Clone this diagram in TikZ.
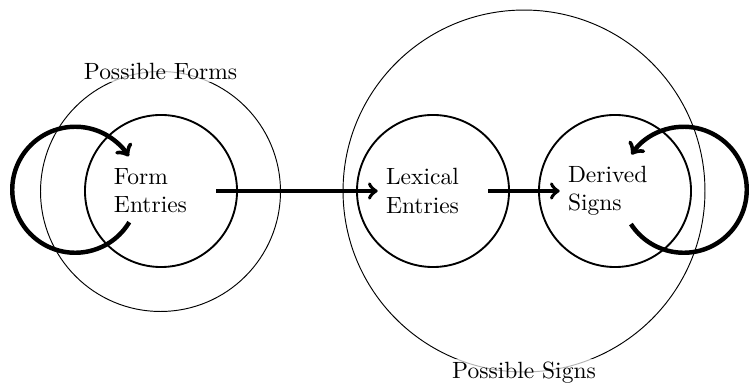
\documentclass[tikz,border=0pt]{standalone}
\usetikzlibrary{calc}
\begin{document}
\begin{tikzpicture}[x=0.4255pt,y=0.4255pt,
  setcircle/.style={circle,draw,line width=0.8pt,minimum size=64.7pt,inner sep=0pt},
  bigset/.style={circle,draw,line width=0.4pt,inner sep=0pt},
  boxtext/.style={text width=40pt,align=left,inner sep=3.33pt},
  setlabel/.style={fill=white,fill opacity=0.7,text opacity=1,inner sep=1pt},
  flow/.style={->,line width=1.6pt},
  loopline/.style={->,line width=1.9pt}]
\useasboundingbox (0,0) rectangle (751,383);
% big sets
\node[bigset,minimum size=102.1pt] (pf) at (160.5,191.5) {};
\node[bigset,minimum size=154pt] (ps) at (524,192) {};
% small circles
\node[setcircle] (form) at (161,192) {};
\node[setcircle] (lex) at (433,192) {};
\node[setcircle] (der) at (615,192) {};
% texts
\node[boxtext] (formt) at (form.center) {Form\\Entries};
\node[boxtext] (lext) at (lex.center) {Lexical\\Entries};
\node[boxtext] (dert) at (der.center) {Derived\\Signs};
% labels
\node[setlabel] (pfl) at (pf.north) {Possible Forms};
\node[setlabel] (psl) at (ps.south) {Possible Signs};
% arrows
\draw[flow] (formt.east) -- (lext.west);
\draw[flow] (lext.east) -- (dert.west);
% loops
\coordinate (lc) at (75.25,193.25);
\coordinate (rc) at (683.75,193.25);
\coordinate (ls) at ($(lc)+(-31:63)$);
\coordinate (rs) at ($(rc)+(213:63)$);
\draw[loopline] (ls) arc[start angle=-31,end angle=-328,radius=63];
\draw[loopline] (rs) arc[start angle=213,end angle=506,radius=63];
\end{tikzpicture}
\end{document}
